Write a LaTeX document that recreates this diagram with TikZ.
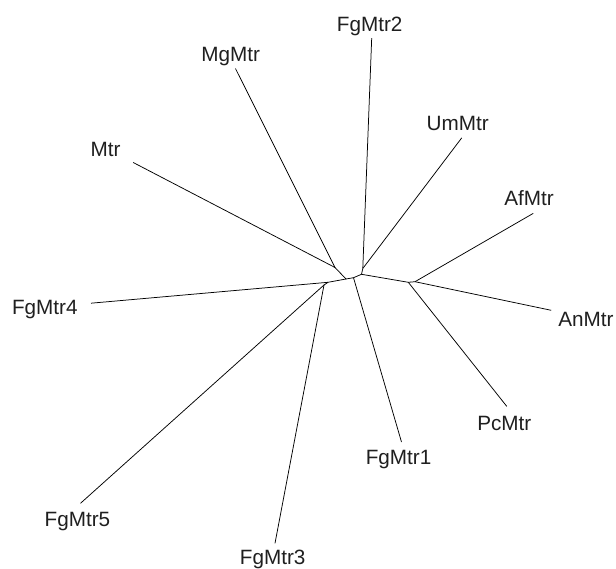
\documentclass[tikz,border=0pt]{standalone}
\usepackage{fontspec}
\setmainfont{Liberation Sans}
\begin{document}
\begin{tikzpicture}[x=1pt,y=-1pt,
  branch/.style={draw=black,line width=0.75pt},
  leaf/.style={anchor=base,inner sep=0pt,text=black!88,font=\fontsize{20.7}{24}\selectfont}]
\useasboundingbox (0,0) rectangle (616,569);
% internal nodes
\coordinate (G) at (335,267.5);
\coordinate (A) at (346,279);
\coordinate (B) at (353.5,277.7);
\coordinate (C) at (361.5,274.3);
\coordinate (C2) at (362.8,268.5);
\coordinate (D1) at (408.3,282.3);
\coordinate (D2) at (415,281.7);
\coordinate (E) at (328,282.3);
\coordinate (F) at (324,285);
% branch tips
\coordinate (tFgMtr2) at (371.7,38.2);
\coordinate (tMgMtr) at (235.5,68.6);
\coordinate (tUmMtr) at (461.7,137.9);
\coordinate (tMtr) at (133.2,162.5);
\coordinate (tAfMtr) at (533.2,213.4);
\coordinate (tFgMtr4) at (91,303.2);
\coordinate (tAnMtr) at (551.2,310.3);
\coordinate (tPcMtr) at (506.8,406.4);
\coordinate (tFgMtr1) at (401.5,442);
\coordinate (tFgMtr5) at (80.5,503.3);
\coordinate (tFgMtr3) at (275,543.3);
% labels
\node[leaf] (lFgMtr2) at (369.7,31.1) {FgMtr2};
\node[leaf] (lMgMtr) at (230.6,61.3) {MgMtr};
\node[leaf] (lUmMtr) at (457.7,130.2) {UmMtr};
\node[leaf] (lMtr) at (105.5,157) {Mtr};
\node[leaf] (lAfMtr) at (529,205.8) {AfMtr};
\node[leaf] (lFgMtr4) at (44.8,314.7) {FgMtr4};
\node[leaf] (lAnMtr) at (586,326.2) {AnMtr};
\node[leaf] (lPcMtr) at (504.3,430.3) {PcMtr};
\node[leaf] (lFgMtr1) at (398.6,464.8) {FgMtr1};
\node[leaf] (lFgMtr5) at (77.4,526.5) {FgMtr5};
\node[leaf] (lFgMtr3) at (272.7,564.3) {FgMtr3};
% internal branches
\draw[branch] (G) -- (A) -- (B) -- (C) -- (C2);
\draw[branch] (C) -- (D1) -- (D2);
\draw[branch] (E) -- (A);
\draw[branch] (F) -- (E);
% terminal branches
\draw[branch] (G) -- (tMtr);
\draw[branch] (G) -- (tMgMtr);
\draw[branch] (C2) -- (tFgMtr2);
\draw[branch] (C2) -- (tUmMtr);
\draw[branch] (D2) -- (tAfMtr);
\draw[branch] (D2) -- (tAnMtr);
\draw[branch] (D1) -- (tPcMtr);
\draw[branch] (B) -- (tFgMtr1);
\draw[branch] (E) -- (tFgMtr4);
\draw[branch] (F) -- (tFgMtr5);
\draw[branch] (F) -- (tFgMtr3);
\end{tikzpicture}
\end{document}
